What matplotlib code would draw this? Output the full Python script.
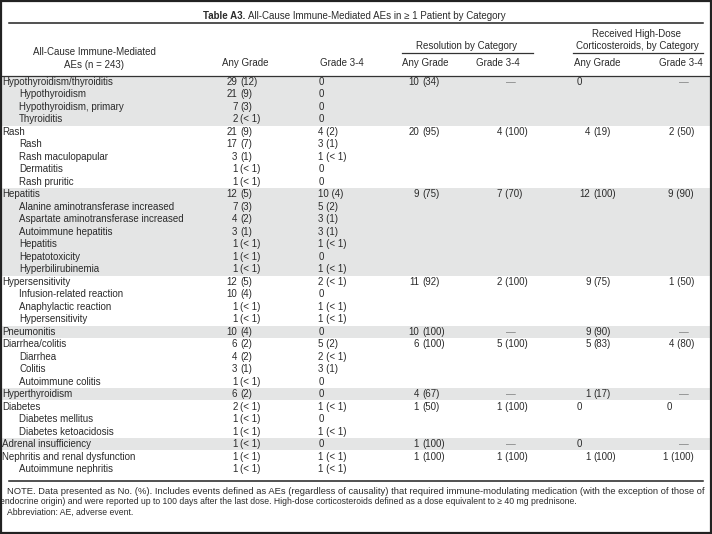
import matplotlib
matplotlib.use("Agg")
import matplotlib.pyplot as plt
from matplotlib.patches import Rectangle

plt.rcParams['font.family'] = ['Liberation Sans', 'DejaVu Sans']

# ---------------- data ----------------
title_bold = "Table A3."
title_rest = "All-Cause Immune-Mediated AEs in \u2265 1 Patient by Category"

labels = [
    "Hypothyroidism/thyroiditis", "Hypothyroidism", "Hypothyroidism, primary", "Thyroiditis",
    "Rash", "Rash", "Rash maculopapular", "Dermatitis", "Rash pruritic",
    "Hepatitis", "Alanine aminotransferase increased", "Aspartate aminotransferase increased",
    "Autoimmune hepatitis", "Hepatitis", "Hepatotoxicity", "Hyperbilirubinemia",
    "Hypersensitivity", "Infusion-related reaction", "Anaphylactic reaction", "Hypersensitivity",
    "Pneumonitis",
    "Diarrhea/colitis", "Diarrhea", "Colitis", "Autoimmune colitis",
    "Hyperthyroidism",
    "Diabetes", "Diabetes mellitus", "Diabetes ketoacidosis",
    "Adrenal insufficiency",
    "Nephritis and renal dysfunction", "Autoimmune nephritis",
]
group_sizes = [4, 5, 7, 4, 1, 4, 1, 3, 1, 2]

any_grade = [
    "29 (12)", "21 (9)", "7 (3)", "2 (< 1)",
    "21 (9)", "17 (7)", "3 (1)", "1 (< 1)", "1 (< 1)",
    "12 (5)", "7 (3)", "4 (2)", "3 (1)", "1 (< 1)", "1 (< 1)", "1 (< 1)",
    "12 (5)", "10 (4)", "1 (< 1)", "1 (< 1)",
    "10 (4)",
    "6 (2)", "4 (2)", "3 (1)", "1 (< 1)",
    "6 (2)",
    "2 (< 1)", "1 (< 1)", "1 (< 1)",
    "1 (< 1)",
    "1 (< 1)", "1 (< 1)",
]
grade34 = [
    "0", "0", "0", "0",
    "4 (2)", "3 (1)", "1 (< 1)", "0", "0",
    "10 (4)", "5 (2)", "3 (1)", "3 (1)", "1 (< 1)", "0", "1 (< 1)",
    "2 (< 1)", "0", "1 (< 1)", "1 (< 1)",
    "0",
    "5 (2)", "2 (< 1)", "3 (1)", "0",
    "0",
    "1 (< 1)", "0", "1 (< 1)",
    "0",
    "1 (< 1)", "1 (< 1)",
]
res_any = ["10 (34)", "20 (95)", "9 (75)", "11 (92)", "10 (100)", "6 (100)", "4 (67)", "1 (50)", "1 (100)", "1 (100)"]
res_34 = ["\u2014", "4 (100)", "7 (70)", "2 (100)", "\u2014", "5 (100)", "\u2014", "1 (100)", "\u2014", "1 (100)"]
ster_any = ["0", "4 (19)", "12 (100)", "9 (75)", "9 (90)", "5 (83)", "1 (17)", "0", "0", "1 (100)"]
ster_34 = ["\u2014", "2 (50)", "9 (90)", "1 (50)", "\u2014", "4 (80)", "\u2014", "0", "\u2014", "1 (100)"]

col_headers = ["Any Grade", "Grade 3-4", "Any Grade", "Grade 3-4", "Any Grade", "Grade 3-4"]
stub_header = "All-Cause Immune-Mediated\nAEs (n = 243)"
span_res = "Resolution by Category"
span_ster = "Received High-Dose\nCorticosteroids, by Category"

footnote = [
    "NOTE. Data presented as No. (%). Includes events defined as AEs (regardless of causality) that required immune-modulating medication (with the exception of those of",
    "endocrine origin) and were reported up to 100 days after the last dose. High-dose corticosteroids defined as a dose equivalent to \u2265 40 mg prednisone.",
    "Abbreviation: AE, adverse event.",
]

# ---------------- layout ----------------
W, H = 712, 534
fig = plt.figure(figsize=(W / 100, H / 100), dpi=100)
ax = fig.add_axes([0, 0, 1, 1])
ax.set_xlim(0, W)
ax.set_ylim(H, 0)
ax.axis('off')
renderer = fig.canvas.get_renderer()

TXT = '#2b2b2b'
FS = 7.0
GRAY = '#e4e5e5'
y0 = 82.0
dy = 12.49

# outer border
ax.add_patch(Rectangle((0.8, 0.5), W - 1.8, H - 1.6, fill=False, edgecolor='#222222', lw=1.6, zorder=5))

# title
ax.text(245, 16, title_bold, ha='right', va='center', fontsize=FS, fontweight='bold', color=TXT)
ax.text(248, 16, title_rest, ha='left', va='center', fontsize=FS, color=TXT)
ax.plot([9, 703], [23, 23], color='#222222', lw=1.1)

# spanning headers
ax.text(467, 46, span_res, ha='center', va='center', fontsize=FS, color=TXT)
ax.plot([402, 533], [52.5, 52.5], color='#333333', lw=0.9)
ax.text(637, 40, span_ster, ha='center', va='center', fontsize=FS, color=TXT, linespacing=1.3)
ax.plot([573, 703], [52.5, 52.5], color='#333333', lw=0.9)

ax.text(94, 58.5, stub_header, ha='center', va='center', fontsize=FS, color=TXT, linespacing=1.3)

hdr_pos = [(245, 'center'), (320, 'left'), (425, 'center'), (520, 'right'), (597, 'center'), (703, 'right')]
for (x, ha), h in zip(hdr_pos, col_headers):
    ax.text(x, 63, h, ha=ha, va='center', fontsize=FS, color=TXT)
ax.plot([0, W], [75.5, 75.5], color='#333333', lw=0.9)

# shading bands
start = 0
for g, n in enumerate(group_sizes):
    if g % 2 == 0:
        top = y0 + (start - 0.5) * dy
        ax.add_patch(Rectangle((0, top), W, n * dy, facecolor=GRAY, edgecolor='none', zorder=0))
    start += n


def split_val(s):
    if ' ' in s and '(' in s:
        i = s.index(' ')
        return s[:i], s[i + 1:]
    return s, None


def num_aligned(x_num, gap, s, y, zero_x=None):
    a, b = split_val(s)
    if b is None:
        if s == '\u2014':
            return
        xx = zero_x if zero_x is not None else x_num
        ax.text(xx, y, a, ha='left' if zero_x is not None else 'right', va='center', fontsize=FS, color=TXT)
        return
    ax.text(x_num, y, a, ha='right', va='center', fontsize=FS, color=TXT)
    ax.text(x_num + gap, y, b, ha='left', va='center', fontsize=FS, color=TXT)


# body rows
level = []
for n in group_sizes:
    level += [0] + [1] * (n - 1)

for i, lab in enumerate(labels):
    y = y0 + i * dy
    ax.text(2 if level[i] == 0 else 19, y, lab, ha='left', va='center', fontsize=FS, color=TXT)
    num_aligned(237.5, 3.0, any_grade[i], y)
    ax.text(318.5, y, grade34[i], ha='left', va='center', fontsize=FS, color=TXT)

# category-level columns
start = 0
for g, n in enumerate(group_sizes):
    y = y0 + start * dy
    num_aligned(419, 3.0, res_any[g], y)
    if res_34[g] == '\u2014':
        ax.text(511, y, res_34[g], ha='center', va='center', fontsize=FS, color='#808080')
    else:
        ax.text(497, y, res_34[g], ha='left', va='center', fontsize=FS, color=TXT)
    num_aligned(590.5, 3.0, ster_any[g], y, zero_x=576.5 if ster_any[g] == '0' else None)
    if ster_34[g] == '\u2014':
        ax.text(684, y, ster_34[g], ha='center', va='center', fontsize=FS, color='#808080')
    elif ster_34[g] == '0':
        ax.text(667, y, ster_34[g], ha='left', va='center', fontsize=FS, color=TXT)
    else:
        ax.text(694, y, ster_34[g], ha='right', va='center', fontsize=FS, color=TXT)
    start += n

# bottom rule and footnote
ax.plot([9, 703], [480.5, 480.5], color='#222222', lw=1.1)


def text_width(s, fs):
    t = ax.text(0, 0, s, fontsize=fs)
    w = t.get_window_extent(renderer).width
    t.remove()
    return w


def fitted(s, width, ref=7.5):
    return ref * width / text_width(s, ref)


fs1 = fitted(footnote[0], 698)
fs2 = fitted(footnote[1], 567)
ax.text(7, 491, footnote[0], ha='left', va='center', fontsize=fs1, color=TXT)
ax.text(0.5, 501.5, footnote[1], ha='left', va='center', fontsize=fs2, color=TXT)
ax.text(7, 512, footnote[2], ha='left', va='center', fontsize=fs2, color=TXT)

fig.savefig('out.png', dpi=100)
